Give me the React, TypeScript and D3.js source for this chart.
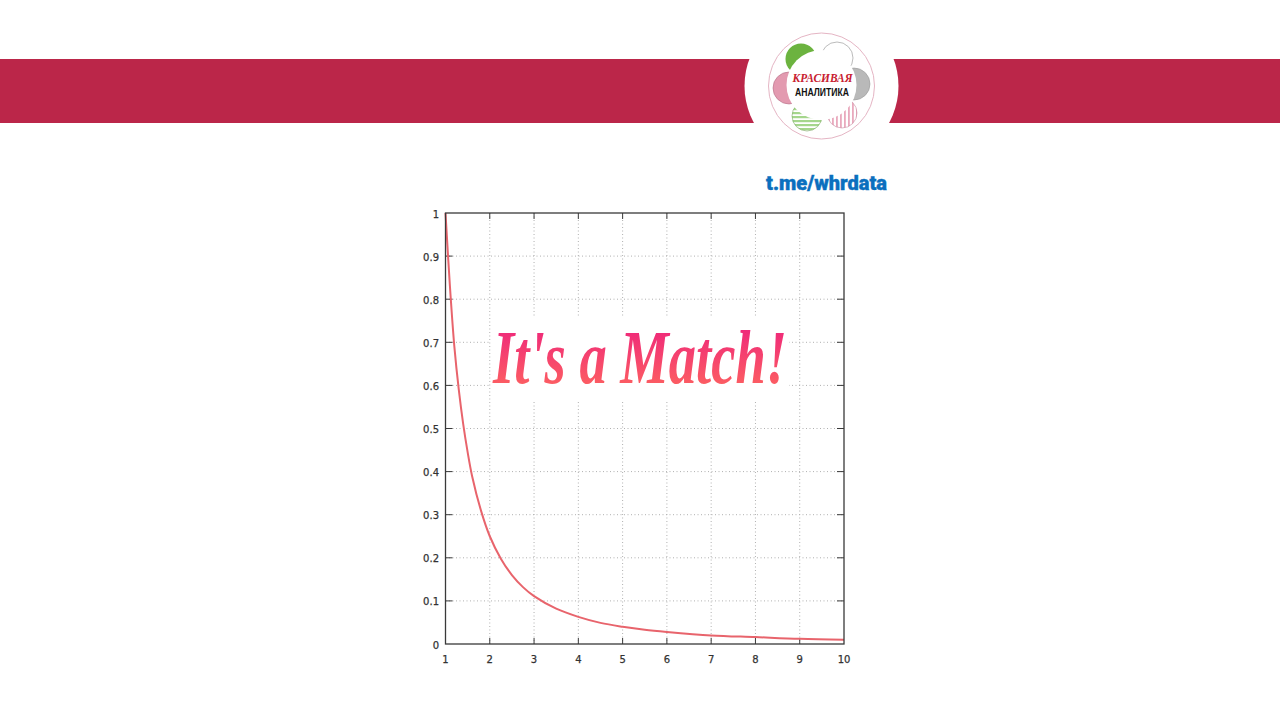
import React from "react";
import * as d3 from "d3";

const xTicks = [1, 2, 3, 4, 5, 6, 7, 8, 9, 10];
const yTicks = [0, 0.1, 0.2, 0.3, 0.4, 0.5, 0.6, 0.7, 0.8, 0.9, 1];
const curveX = [1, 1.1, 1.2, 1.3, 1.4, 1.5, 1.6, 1.8, 2, 2.25, 2.5, 2.75, 3, 3.5, 4, 4.5, 5, 5.5, 6, 7, 8, 9, 10];
const curveY = [1, 0.83, 0.69, 0.59, 0.51, 0.445, 0.39, 0.31, 0.25, 0.198, 0.16, 0.132, 0.111, 0.082, 0.063, 0.049, 0.04, 0.033, 0.028, 0.02, 0.016, 0.012, 0.01];
const stamp = "It's a Match!";
const logoTop = "КРАСИВАЯ";
const logoBottom = "АНАЛИТИКА";
const channel = "t.me/whrdata";

const x = d3.scaleLinear().domain([1, 10]).range([445.5, 844]);
const y = d3.scaleLinear().domain([0, 1]).range([644, 213]);
const line = d3
  .line<number>()
  .x((d) => x(d))
  .y((_, i) => y(curveY[i]))
  .curve(d3.curveCatmullRom.alpha(0.5));

const axisInk = "#3a3a3a";
const fmt = (v: number) => String(v);
const labelStyle = {
  fontFamily: "'DejaVu Sans'",
  fontSize: 10,
  fill: "#333",
  stroke: "#333",
  strokeWidth: 0.25,
} as const;

export default function App() {
  return (
    <svg
      width={1280}
      height={719}
      viewBox="0 0 1280 719"
      style={{ position: "fixed", left: 0, top: 0, background: "#fff" }}
    >
      <defs>
        <linearGradient id="stampFill" x1="0" y1="0" x2="0" y2="1">
          <stop offset="0" stopColor="#ec1c80" />
          <stop offset="1" stopColor="#ff6a5c" />
        </linearGradient>
        <pattern id="hatchGreen" width="5" height="4" patternUnits="userSpaceOnUse">
          <rect width="5" height="4" fill="#fff" />
          <rect width="5" height="2.2" fill="#a5d68c" />
        </pattern>
        <pattern id="hatchPink" width="4" height="5" patternUnits="userSpaceOnUse">
          <rect width="4" height="5" fill="#fff" />
          <rect width="1.8" height="5" fill="#e9a9bd" />
        </pattern>
      </defs>

      <rect x={0} y={59} width={1280} height={64} fill="#bb2649" />
      <circle cx={821.5} cy={86} r={77} fill="#fff" />

      {/* logo */}
      <circle cx={821.5} cy={86} r={53} fill="#fff" stroke="#e5b5c4" strokeWidth={1} />
      <circle cx={801} cy={59} r={15.5} fill="#6cb33f" />
      <circle cx={837} cy={58} r={16} fill="#fff" stroke="#aaa" strokeWidth={0.8} />
      <circle cx={854} cy={84} r={16} fill="#b9b9b9" stroke="#999" strokeWidth={0.6} />
      <circle cx={842} cy={113} r={15} fill="url(#hatchPink)" stroke="#c98aa0" strokeWidth={0.6} />
      <circle cx={807} cy={116} r={15} fill="url(#hatchGreen)" stroke="#7aa860" strokeWidth={0.6} />
      <circle cx={789} cy={88} r={16} fill="#e39ab0" stroke="#b56f86" strokeWidth={0.6} />
      <circle cx={821.5} cy={85} r={35} fill="#fff" />
      <text
        x={822.5}
        y={81.5}
        textAnchor="middle"
        textLength={60}
        lengthAdjust="spacingAndGlyphs"
        style={{ fontFamily: "'Liberation Serif'", fontStyle: "italic", fontWeight: 700, fontSize: 12, fill: "#c8202f" }}
      >
        {logoTop}
      </text>
      <text
        x={822}
        y={96}
        textAnchor="middle"
        textLength={54}
        lengthAdjust="spacingAndGlyphs"
        style={{ fontFamily: "'Liberation Sans'", fontWeight: 700, fontSize: 10.5, fill: "#111" }}
      >
        {logoBottom}
      </text>

      <text
        x={766}
        y={190}
        textLength={121}
        lengthAdjust="spacingAndGlyphs"
        style={{ fontFamily: "Roboto", fontWeight: 900, fontSize: 20, fill: "#0b6fbe", stroke: "#0b6fbe", strokeWidth: 0.4 }}
      >
        {channel}
      </text>

      {/* grid */}
      {xTicks.slice(1, -1).map((t) => (
        <line key={t} x1={x(t)} x2={x(t)} y1={213} y2={644} stroke="#b0b0b0" strokeWidth={1} strokeDasharray="1 2.5" />
      ))}
      {yTicks.slice(1, -1).map((t) => (
        <line key={t} x1={445.5} x2={844} y1={y(t)} y2={y(t)} stroke="#b0b0b0" strokeWidth={1} strokeDasharray="1 2.5" />
      ))}

      {/* ticks */}
      {xTicks.slice(1, -1).map((t) => (
        <g key={t} stroke={axisInk} strokeWidth={1}>
          <line x1={x(t)} x2={x(t)} y1={644} y2={638} />
          <line x1={x(t)} x2={x(t)} y1={213} y2={219} />
        </g>
      ))}
      {yTicks.slice(1, -1).map((t) => (
        <g key={t} stroke={axisInk} strokeWidth={1}>
          <line x1={445.5} x2={452.5} y1={y(t)} y2={y(t)} />
          <line x1={844} x2={837} y1={y(t)} y2={y(t)} />
        </g>
      ))}

      <path d={line(curveX) ?? ""} fill="none" stroke="#e8646c" strokeWidth={2} />
      <rect x={445.5} y={213} width={398.5} height={431} fill="none" stroke={axisInk} strokeWidth={1.3} />

      {xTicks.map((t) => (
        <text key={t} x={x(t)} y={663} textAnchor="middle" style={labelStyle}>
          {fmt(t)}
        </text>
      ))}
      {yTicks.map((t) => (
        <text key={t} x={439} y={y(t) + 4.5} textAnchor="end" style={labelStyle}>
          {fmt(t)}
        </text>
      ))}

      {/* stamp */}
      <rect x={491} y={318} width={298} height={82} fill="#fff" />
      <text
        x={493}
        y={383}
        textLength={294}
        lengthAdjust="spacingAndGlyphs"
        fill="url(#stampFill)"
        style={{ fontFamily: "'Liberation Serif'", fontStyle: "italic", fontWeight: 700, fontSize: 76 }}
      >
        {stamp}
      </text>
    </svg>
  );
}
